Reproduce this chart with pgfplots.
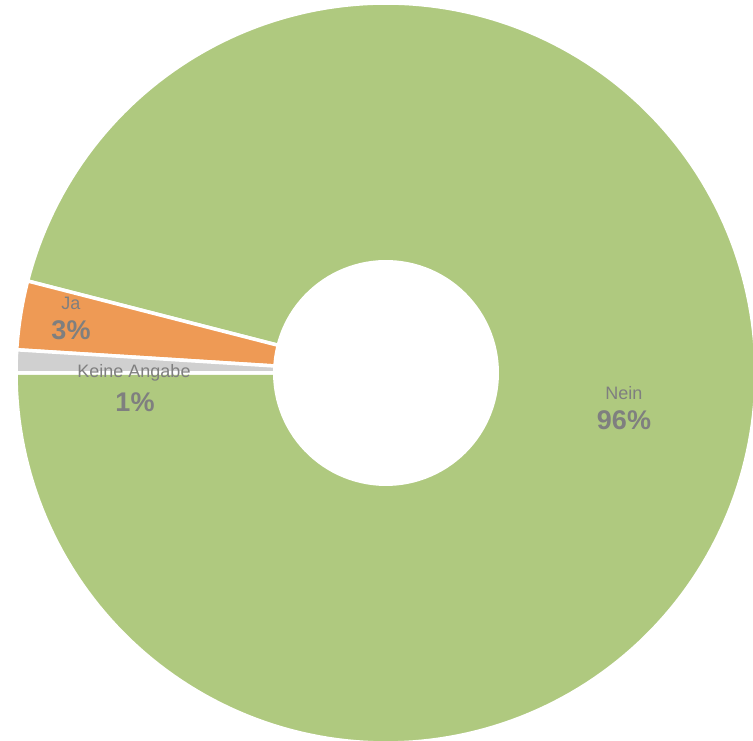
\documentclass[border=0pt]{standalone}
\usepackage{pgfplots}
\pgfplotsset{compat=1.18}
\usepackage{fontspec}
\setmainfont{Liberation Sans}
\definecolor{nein}{HTML}{AFC97F}
\definecolor{ja}{HTML}{EE9A55}
\definecolor{keine}{HTML}{D0D0D0}
\definecolor{lbl}{HTML}{7F7F7F}
\begin{document}
\begin{tikzpicture}
% shares in percent, slices run clockwise from 180 deg
\pgfmathsetmacro{\pKeine}{1}
\pgfmathsetmacro{\pJa}{3}
\pgfmathsetmacro{\pNein}{96}
\pgfmathsetmacro{\aA}{180}
\pgfmathsetmacro{\aB}{\aA-3.6*\pKeine}
\pgfmathsetmacro{\aC}{\aB-3.6*\pJa}
\pgfmathsetmacro{\aD}{\aC-3.6*\pNein}
\begin{axis}[
  x=1pt, y=1pt,
  xmin=-386, xmax=367,
  ymin=-368, ymax=373,
  hide axis,
  clip=false,
  ]
  \addplot[fill=nein, draw=white, line width=3.5pt, line join=round,
    domain=\aD:\aC, samples=240, variable=\t]
    ({370*cos(t)},{370*sin(t)}) -- (axis cs:0,0) -- cycle;
  \addplot[fill=ja, draw=white, line width=3.5pt, line join=round,
    domain=\aC:\aB, samples=20, variable=\t]
    ({370*cos(t)},{370*sin(t)}) -- (axis cs:0,0) -- cycle;
  \addplot[fill=keine, draw=white, line width=3.5pt, line join=round,
    domain=\aB:\aA, samples=10, variable=\t]
    ({370*cos(t)},{370*sin(t)}) -- (axis cs:0,0) -- cycle;
  % hole
  \addplot[fill=white, draw=none, domain=0:360, samples=120, variable=\t]
    ({113*cos(t)},{113*sin(t)}) -- cycle;

  \node[text=lbl, font=\fontsize{18}{20}\selectfont] at (axis cs:-315,70) {Ja};
  \node[text=lbl, font=\fontsize{27}{29}\selectfont\bfseries] at (axis cs:-315,43) {3\%};
  \node[text=lbl, font=\fontsize{18}{20}\selectfont] at (axis cs:-252,0) {Keine Angabe};
  \node[text=lbl, font=\fontsize{27}{29}\selectfont\bfseries] at (axis cs:-251,-29) {1\%};
  \node[text=lbl, font=\fontsize{18}{20}\selectfont] at (axis cs:238,-20) {Nein};
  \node[text=lbl, font=\fontsize{27}{29}\selectfont\bfseries] at (axis cs:238,-47) {96\%};
\end{axis}
\pgfresetboundingbox
\path[use as bounding box] (current axis.south west) rectangle (current axis.north east);
\end{tikzpicture}
\end{document}
